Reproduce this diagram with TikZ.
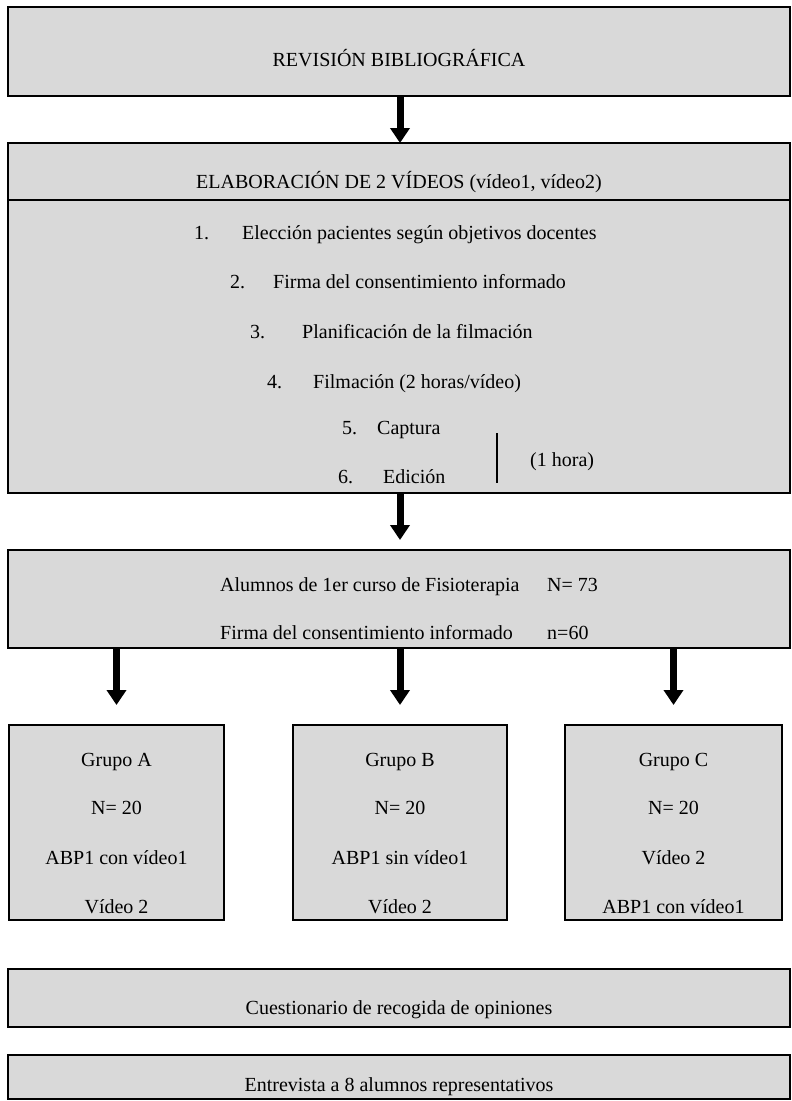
\documentclass[tikz,border=0pt]{standalone}
\usepackage{fontspec}
\setmainfont{Liberation Serif}
\usetikzlibrary{arrows.meta}
\definecolor{boxgray}{HTML}{D9D9D9}
\begin{document}
\begin{tikzpicture}[x=1pt,y=-1pt,
  box/.style={draw=black, fill=boxgray, line width=2.5pt, outer sep=0pt, inner sep=0pt, anchor=north west},
  txt/.style={inner sep=0pt, anchor=base, font=\fontsize{20}{24}\selectfont},
  ltxt/.style={txt, anchor=base west},
  arr/.style={line width=7pt, -{Triangle[length=15pt,width=19pt]}},
  bar/.style={line width=2.7pt}
]
\useasboundingbox (0,0) rectangle (792,1101);

% boxes
\node[box, minimum width=782pt, minimum height=89pt] (b1) at (8,7) {};
\node[box, minimum width=782pt, minimum height=57pt] (b2h) at (8,143) {};
\node[box, minimum width=782pt, minimum height=293pt] (b2) at (8,200) {};
\node[box, minimum width=782pt, minimum height=98pt] (b3) at (8,550) {};
\node[box, minimum width=215pt, minimum height=195pt] (gA) at (9,725) {};
\node[box, minimum width=214pt, minimum height=195pt] (gB) at (293,725) {};
\node[box, minimum width=217pt, minimum height=195pt] (gC) at (565,725) {};
\node[box, minimum width=782pt, minimum height=58pt] (b4) at (8,969) {};
\node[box, minimum width=782pt, minimum height=44pt] (b5) at (8,1055) {};

% texts
\node[txt] (t1) at (399,66) {REVISIÓN BIBLIOGRÁFICA};
\node[txt] (t2) at (399,188) {ELABORACIÓN DE 2 VÍDEOS (vídeo1, vídeo2)};
\node[ltxt] (i1) at (194,239) {\makebox[48pt][l]{1.}Elección pacientes según objetivos docentes};
\node[ltxt] (i2) at (230,288) {\makebox[43pt][l]{2.}Firma del consentimiento informado};
\node[ltxt] (i3) at (250,338) {\makebox[52pt][l]{3.}Planificación de la filmación};
\node[ltxt] (i4) at (267,388) {\makebox[46pt][l]{4.}Filmación (2 horas/vídeo)};
\node[ltxt] (i5) at (342,434) {\makebox[35pt][l]{5.}Captura};
\node[ltxt] (i6) at (338,483) {\makebox[45pt][l]{6.}Edición};
\coordinate (bartop) at (497,433);
\coordinate (barbot) at (497,483);
\draw[bar] (bartop) -- (barbot);
\node[ltxt] (hora) at (530,466) {(1 hora)};

\node[ltxt] (al) at (220,591) {\makebox[327pt][l]{Alumnos de 1er curso de Fisioterapia}N= 73};
\node[ltxt] (fi) at (220,639) {\makebox[327pt][l]{Firma del consentimiento informado}n=60};

\node[txt] (a1) at (gA.north |- 0,766) {Grupo A};
\node[txt] (a2) at (gA.north |- 0,814) {N= 20};
\node[txt] (a3) at (gA.north |- 0,864) {ABP1 con vídeo1};
\node[txt] (a4) at (gA.north |- 0,913) {Vídeo 2};

\node[txt] (bb1) at (gB.north |- 0,766) {Grupo B};
\node[txt] (bb2) at (gB.north |- 0,814) {N= 20};
\node[txt] (bb3) at (gB.north |- 0,864) {ABP1 sin vídeo1};
\node[txt] (bb4) at (gB.north |- 0,913) {Vídeo 2};

\node[txt] (c1) at (gC.north |- 0,766) {Grupo C};
\node[txt] (c2) at (gC.north |- 0,814) {N= 20};
\node[txt] (c3) at (gC.north |- 0,864) {Vídeo 2};
\node[txt] (c4) at (gC.north |- 0,913) {ABP1 con vídeo1};

\node[txt] (t4) at (399,1014) {Cuestionario de recogida de opiniones};
\node[txt] (t5) at (399,1091) {Entrevista a 8 alumnos representativos};

% arrows
\draw[arr] (b1.south -| 400,0) -- (b2h.north -| 400,0);
\draw[arr, shorten >=10pt] (b2.south -| 400,0) -- (b3.north -| 400,0);
\draw[arr, shorten >=20pt] (b3.south -| gA.north) -- (gA.north);
\draw[arr, shorten >=20pt] (b3.south -| gB.north) -- (gB.north);
\draw[arr, shorten >=20pt] (b3.south -| gC.north) -- (gC.north);
\end{tikzpicture}
\end{document}
